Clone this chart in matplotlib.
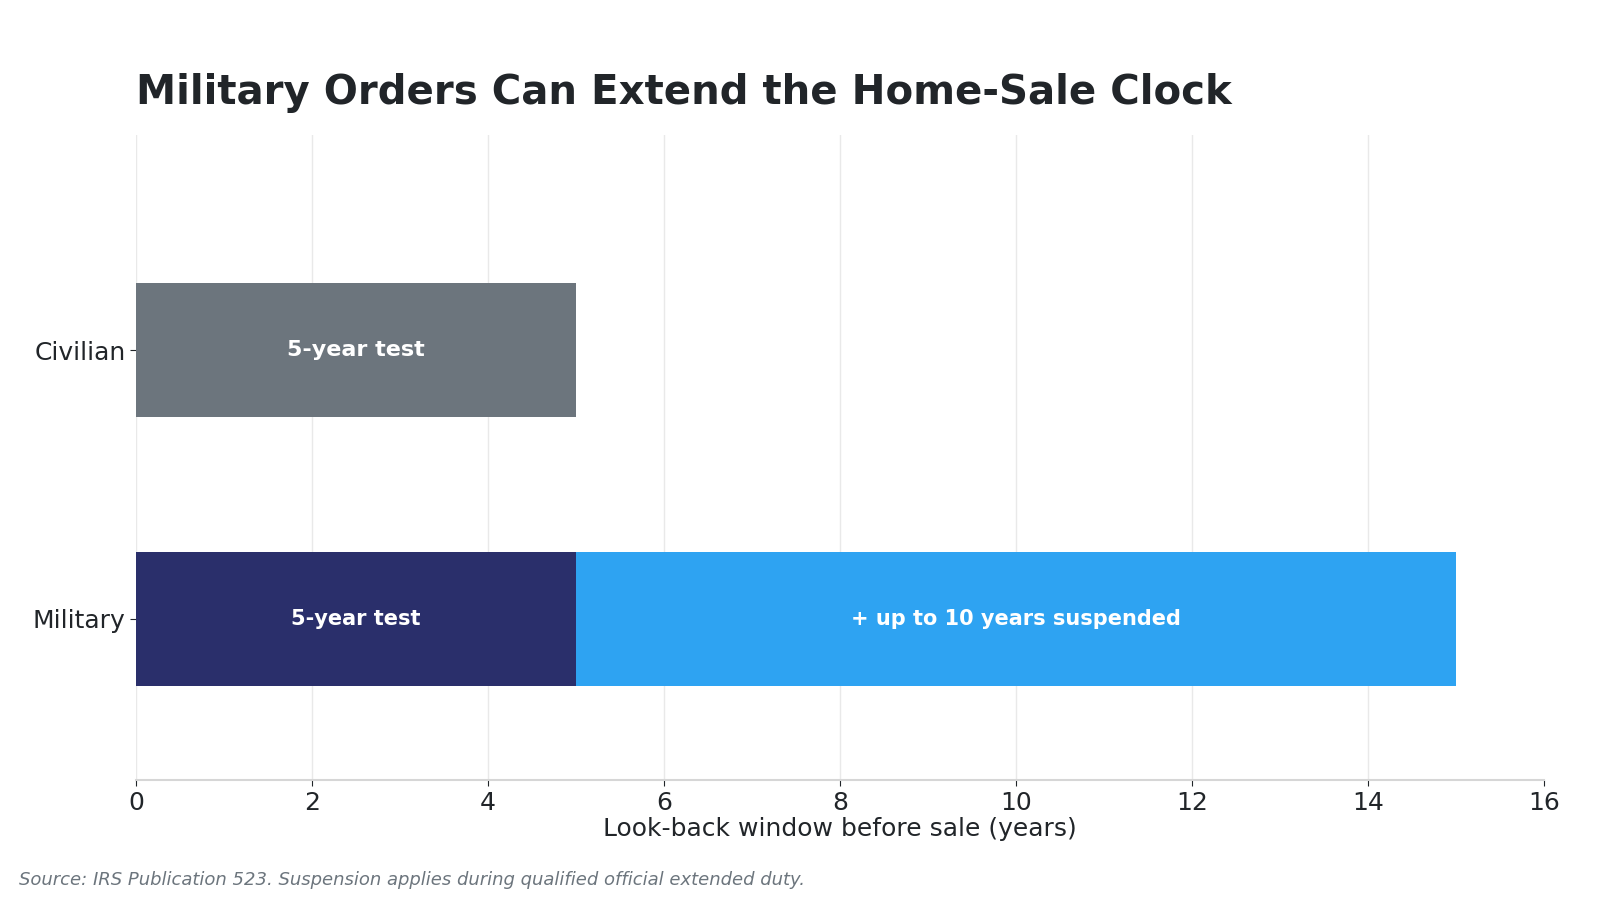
import matplotlib
matplotlib.use('Agg')
import matplotlib.pyplot as plt
import numpy as np

# Data
categories = ['Military', 'Civilian']
base_years = [5, 5]
extra_years = [10, 0]
base_labels = ['5-year test', '5-year test']
extra_labels = ['+ up to 10 years suspended', '']
base_colors = ['#2a2f6b', '#6c757d']
extra_color = '#2ea3f2'

plt.rcParams['font.family'] = ['DejaVu Sans']
text_color = '#212529'

fig = plt.figure(figsize=(16, 9), dpi=100)
ax = fig.add_axes([0.085, 0.133, 0.88, 0.717])

ypos = np.arange(len(categories))
ax.barh(ypos, base_years, height=0.5, color=base_colors, zorder=3)
ax.barh(ypos, extra_years, left=base_years, height=0.5, color=extra_color, zorder=3)

label_sizes = [15, 16]
for i in range(len(categories)):
    ax.text(base_years[i] / 2, ypos[i], base_labels[i], ha='center', va='center',
            color='white', fontsize=label_sizes[i], fontweight='bold', zorder=4)
    if extra_years[i] > 0:
        ax.text(base_years[i] + extra_years[i] / 2, ypos[i], extra_labels[i], ha='center',
                va='center', color='white', fontsize=15, fontweight='bold', zorder=4)

ax.set_xlim(0, 16)
ax.set_ylim(-0.6, 1.8)
ax.set_yticks(ypos)
ax.set_yticklabels(categories)
ax.set_xticks(np.arange(0, 17, 2))
ax.tick_params(axis='both', labelsize=18, colors=text_color, length=4)
ax.grid(axis='x', color='#e9e9e9', linewidth=1, zorder=0)
for s in ['top', 'right', 'left']:
    ax.spines[s].set_visible(False)
ax.spines['bottom'].set_color('#d6d6d6')
ax.spines['bottom'].set_linewidth(1.5)
ax.set_xlabel('Look-back window before sale (years)', fontsize=18, color=text_color, labelpad=2)

fig.text(0.085, 0.897, 'Military Orders Can Extend the Home-Sale Clock', fontsize=29,
         fontweight='bold', color=text_color, ha='left', va='center')
fig.text(0.012, 0.022, 'Source: IRS Publication 523. Suspension applies during qualified official extended duty.',
         fontsize=13, style='italic', color='#6c757d', ha='left', va='center')

# no gridline on the right edge
fig.canvas.draw()
ax.xaxis.get_gridlines()[-1].set_visible(False)

fig.savefig('out.png', dpi=100, facecolor='white')
